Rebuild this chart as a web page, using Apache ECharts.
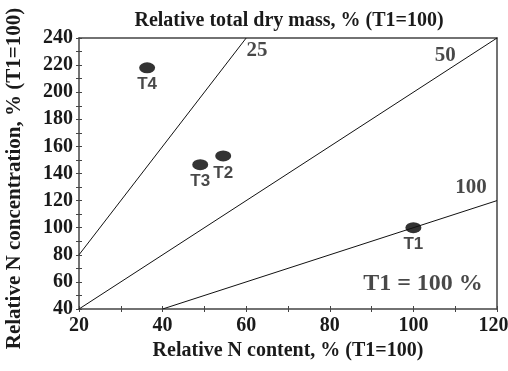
<!DOCTYPE html>
<html>
<head>
<meta charset="utf-8">
<script src="https://cdn.jsdelivr.net/npm/echarts@6/dist/echarts.min.js"></script>
<style>
  html, body { margin: 0; padding: 0; background: #fff; }
  #chart { width: 508px; height: 371px; }
</style>
</head>
<body>
<div id="chart"></div>
<script>
// treatments: relative N content (x) vs relative N concentration (y)
var treatments = ['T1', 'T2', 'T3', 'T4'];
var nContent = [100, 54.5, 49, 36.3];
var nConc = [100, 153, 146.5, 218];

// dry mass isolines (25, 50, 100 % of T1), end points
var isoNames = ['25', '50', '100'];
var isoLines = [
  [[20, 80], [60, 240]],
  [[20, 40], [120, 240]],
  [[40, 40], [120, 120]]
];
var isoLabelPos = [[62.6, 231], [107.6, 226.7], [113.8, 129.3]];
var noteText = 'T1 = 100 %';
var notePos = [102.3, 58.5];

var serif = '"Liberation Serif", "Times New Roman", serif';
var sans = '"Liberation Sans", Arial, sans-serif';
var axisCol = '#444';
var txtCol = '#1a1a1a';

var series = [];
isoLines.forEach(function (pts) {
  series.push({
    type: 'line',
    data: pts,
    symbol: 'none',
    silent: true,
    lineStyle: { color: '#111', width: 1 }
  });
});

series.push({
  type: 'scatter',
  data: isoLabelPos.map(function (p, i) {
    return { value: p, label: { formatter: isoNames[i] } };
  }).concat([{ value: notePos, label: { formatter: noteText, fontSize: 24 } }]),
  symbolSize: 0,
  silent: true,
  label: {
    show: true, position: 'inside', color: txtCol,
    fontFamily: serif, fontWeight: 'bold', fontSize: 21
  }
});

series.push({
  type: 'scatter',
  data: treatments.map(function (t, i) {
    return { value: [nContent[i], nConc[i]], name: t };
  }),
  symbol: 'circle',
  symbolSize: [16, 11],
  itemStyle: { color: '#000' },
  label: {
    show: true, position: 'bottom', distance: 3,
    formatter: '{b}', color: txtCol,
    fontFamily: sans, fontWeight: 'bold', fontSize: 17
  }
});

var tickLabel = { fontFamily: serif, fontWeight: 'bold', fontSize: 20, color: txtCol };
var nameStyle = { fontFamily: serif, fontWeight: 'bold', fontSize: 20, color: txtCol };

var option = {
  animation: false,
  title: {
    text: 'Relative total dry mass, % (T1=100)',
    left: 284, top: 6, textAlign: 'center',
    textStyle: { fontFamily: serif, fontWeight: 'bold', fontSize: 20, color: txtCol }
  },
  grid: { left: 79, right: 11, top: 38, bottom: 62, outerBoundsMode: 'none', containLabel: false },
  xAxis: [{
    type: 'value', min: 20, max: 120, interval: 20, position: 'bottom',
    name: 'Relative N content, % (T1=100)', nameLocation: 'middle', nameGap: 29,
    nameTextStyle: nameStyle,
    axisLine: { lineStyle: { color: axisCol, width: 1.5 } },
    axisTick: { length: 3, lineStyle: { color: axisCol } },
    minorTick: { show: true, splitNumber: 2, length: 3, lineStyle: { color: axisCol } },
    splitLine: { show: false },
    axisLabel: Object.assign({
      margin: 7,
      formatter: function (v) { return v === 120 ? '{r|' + v + '}' : v; },
      rich: { r: { fontFamily: serif, fontWeight: 'bold', fontSize: 20, color: txtCol, padding: [0, 7, 0, 0] } }
    }, tickLabel)
  }, {
    type: 'value', min: 20, max: 120, interval: 20, position: 'bottom', offset: 0,
    axisLine: { show: false },
    axisTick: { inside: true, length: 3, lineStyle: { color: axisCol } },
    minorTick: { show: true, splitNumber: 2, length: 3, lineStyle: { color: axisCol } },
    splitLine: { show: false },
    axisLabel: { show: false }
  }, {
    type: 'value', min: 20, max: 120, position: 'top',
    axisLine: { lineStyle: { color: axisCol, width: 1.5 } },
    axisTick: { show: false }, axisLabel: { show: false }, splitLine: { show: false }
  }],
  yAxis: [{
    type: 'value', min: 40, max: 240, interval: 20, position: 'left',
    name: 'Relative N concentration, % (T1=100)', nameLocation: 'middle', nameGap: 54,
    nameTextStyle: Object.assign({}, nameStyle, { fontSize: 21, padding: [0, 10, 0, 0] }),
    axisLine: { lineStyle: { color: axisCol, width: 1.5 } },
    axisTick: { length: 3, lineStyle: { color: axisCol } },
    minorTick: { show: true, splitNumber: 2, length: 3, lineStyle: { color: axisCol } },
    splitLine: { show: false },
    axisLabel: Object.assign({ margin: 6 }, tickLabel)
  }, {
    type: 'value', min: 40, max: 240, interval: 20, position: 'left', offset: 0,
    axisLine: { show: false },
    axisTick: { inside: true, length: 3, lineStyle: { color: axisCol } },
    minorTick: { show: true, splitNumber: 2, length: 3, lineStyle: { color: axisCol } },
    splitLine: { show: false },
    axisLabel: { show: false }
  }, {
    type: 'value', min: 40, max: 240, position: 'right',
    axisLine: { lineStyle: { color: axisCol, width: 1.5 } },
    axisTick: { show: false }, axisLabel: { show: false }, splitLine: { show: false }
  }],
  series: series
};

var chart = echarts.init(document.getElementById('chart'));
chart.setOption(option);
</script>
</body>
</html>
